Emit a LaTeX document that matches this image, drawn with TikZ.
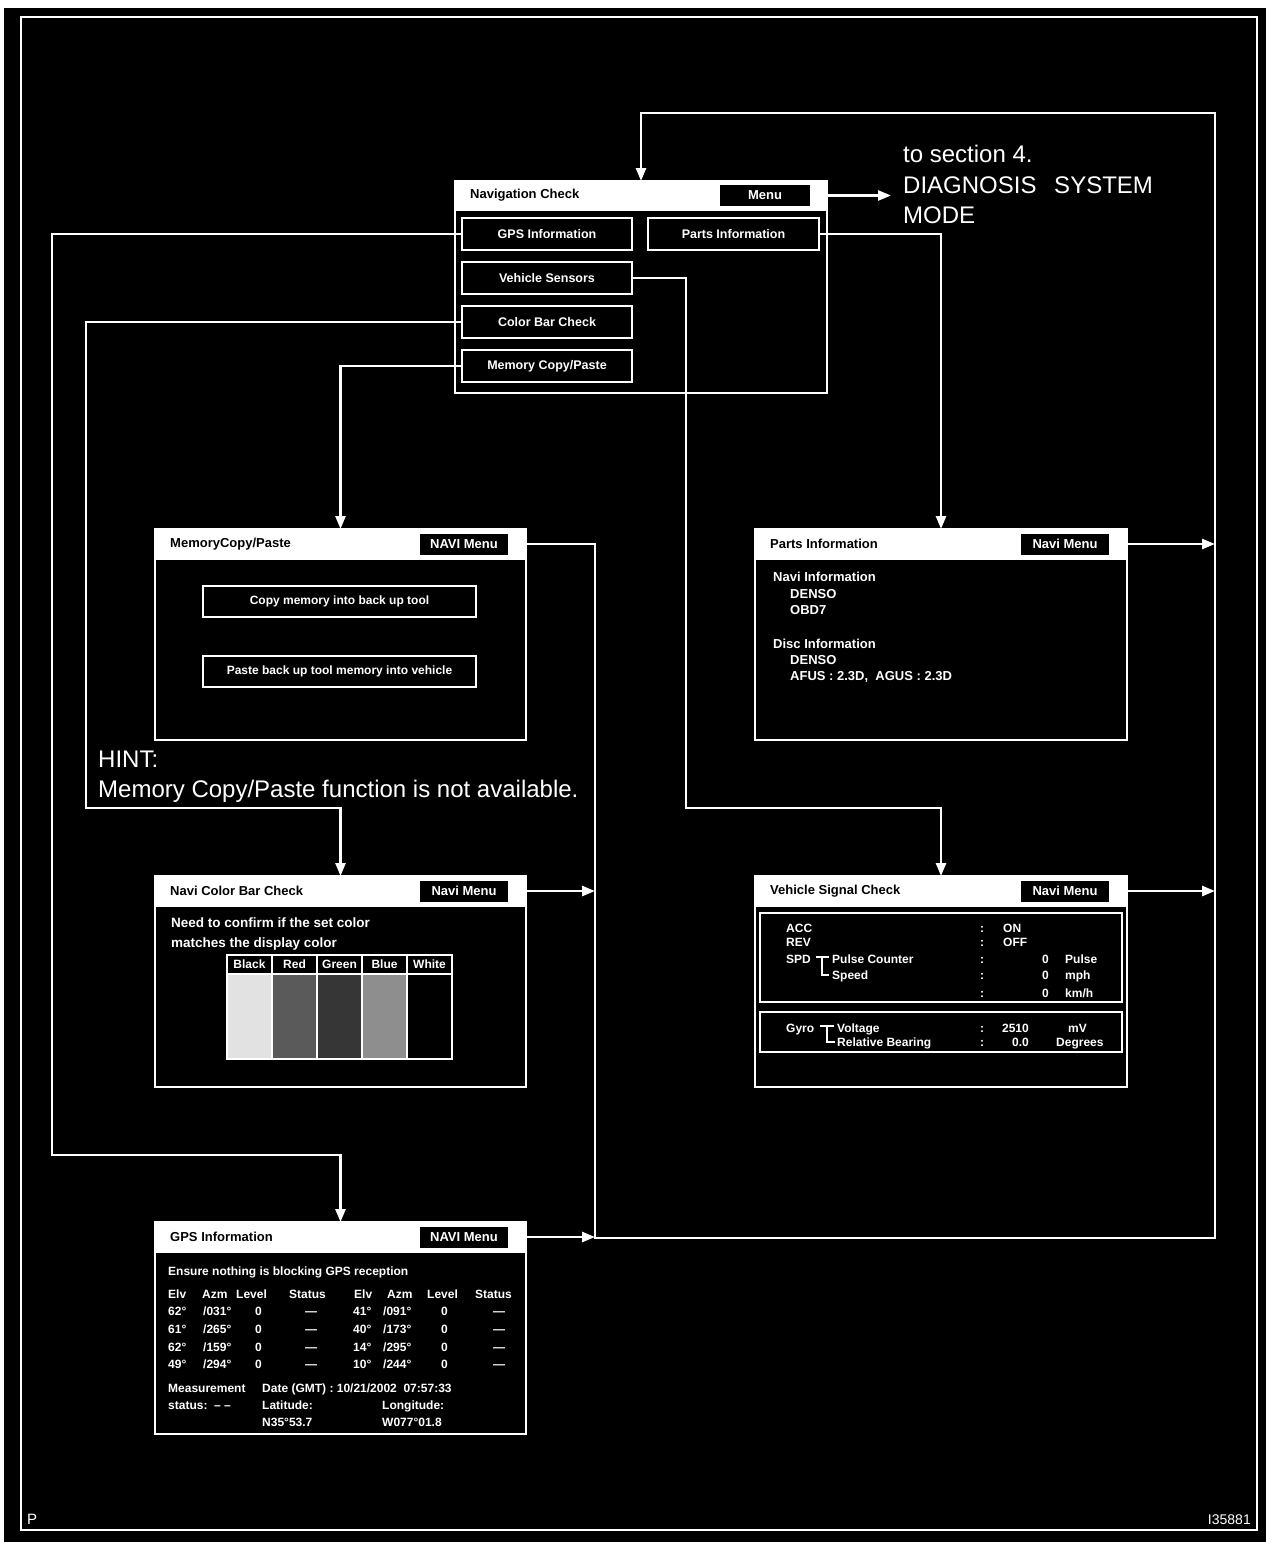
\documentclass[tikz,border=0pt]{standalone}
\usepackage{fontspec}
\setmainfont{Liberation Sans}
\usepackage{tikz}
\usetikzlibrary{arrows.meta,positioning,calc}
\definecolor{Ink}{HTML}{000000}
\definecolor{Paper}{HTML}{FFFFFF}
\definecolor{BarBlack}{HTML}{E2E2E2}
\definecolor{BarRed}{HTML}{5A5A5A}
\definecolor{BarGreen}{HTML}{363636}
\definecolor{BarBlue}{HTML}{8E8E8E}
\definecolor{BarWhite}{HTML}{000000}
\tikzset{
  arr/.style={-{Triangle[length=13bp,width=10bp]},line width=2.6bp,draw=Paper},
  screenbox/.style={draw=Paper,line width=1.6bp,fill=Ink,anchor=north west,inner sep=0pt,outer sep=0pt,minimum width=371bp,minimum height=211bp},
  barbox/.style={draw=Paper,line width=1.6bp,fill=Paper,anchor=north west,inner sep=0pt,outer sep=0pt,minimum width=371bp,minimum height=30bp},
  titletxt/.style={text=Ink,font=\fontsize{13bp}{15bp}\selectfont\bfseries,inner sep=0pt},
  menubtn/.style={fill=Ink,text=Paper,font=\fontsize{13bp}{15bp}\selectfont\bfseries,minimum width=88bp,minimum height=21bp,inner sep=0pt,outer sep=0pt},
  keybox/.style={draw=Paper,line width=1.6bp,fill=Ink,text=Paper,font=\fontsize{12.5bp}{15bp}\selectfont\bfseries,minimum width=170bp,minimum height=32bp,inner sep=0pt,outer sep=0pt},
  framebox/.style={draw=Paper,line width=1.6bp,anchor=north west,inner sep=0pt,outer sep=0pt},
  txt/.style={text=Paper,font=\fontsize{12bp}{14bp}\selectfont\bfseries,anchor=base west,inner sep=0pt},
  bigtxt/.style={text=Paper,font=\fontsize{24bp}{28bp}\selectfont,anchor=base west,inner sep=0pt},
  cellhead/.style={draw=Paper,line width=1.2bp,fill=Ink,text=Paper,font=\fontsize{12bp}{14bp}\selectfont\bfseries,anchor=north west,inner sep=0pt,outer sep=0pt,minimum width=45bp,minimum height=19bp},
  cellbody/.style={draw=Paper,line width=1.2bp,anchor=north west,inner sep=0pt,outer sep=0pt,minimum width=45bp,minimum height=85bp}
}
\begin{document}
\begin{tikzpicture}[x=1bp,y=-1bp,node distance=12bp]
  \useasboundingbox (0,0) rectangle (1266,1542);
  \fill[Paper] (0,0) rectangle (1266,1542);
  \fill[Ink] (4,8) rectangle (1266,1542);
  \draw[Paper,line width=2.4bp] (21,17) rectangle (1257,1530);
  % navigation check screen
  \node[screenbox,minimum width=372bp,minimum height=212bp] (navchk) at (455,181) {};
  \node[barbox,minimum width=372bp,minimum height=29bp] (navbar) at (navchk.north west) {};
  \node[titletxt,right=15bp of navbar.west] (navttl) {Navigation Check};
  \node[menubtn,minimum width=90bp,left=17bp of navbar.east] (navmenu) {Menu};
  \node[keybox] (gpsbtn) at (547,234) {GPS Information};
  \node[keybox,minimum width=171bp,right=16bp of gpsbtn] (partsbtn) {Parts Information};
  \node[keybox,below=of gpsbtn] (vsbtn) {Vehicle Sensors};
  \node[keybox,below=of vsbtn] (cbbtn) {Color Bar Check};
  \node[keybox,below=of cbbtn] (mcpbtn) {Memory Copy/Paste};
  \node[bigtxt] (diag1) at (903,162) {to section 4.};
  \node[bigtxt] (diag2) at (903,193) {DIAGNOSIS\hspace{11bp} SYSTEM};
  \node[bigtxt] (diag3) at (903,223) {MODE};
  % memory copy/paste screen
  \node[screenbox] (mcp) at (155,529) {};
  \node[barbox] (mcpbar) at (mcp.north west) {};
  \node[titletxt,right=15bp of mcpbar.west] (mcpttl) {MemoryCopy/Paste};
  \node[menubtn,left=18bp of mcpbar.east] (mcpmenu) {NAVI Menu};
  \node[keybox,minimum width=273bp,minimum height=31bp,font=\fontsize{12bp}{14bp}\selectfont\bfseries] (copybtn) at (339.5,601.5) {Copy memory into back up tool};
  \node[keybox,minimum width=273bp,minimum height=31bp,font=\fontsize{12bp}{14bp}\selectfont\bfseries,below=39bp of copybtn] (pastebtn) {Paste back up tool memory into vehicle};
  % parts information screen
  \node[screenbox,minimum width=372bp] (parts) at (755,529) {};
  \node[barbox,minimum width=372bp] (partsbar) at (parts.north west) {};
  \node[titletxt,right=15bp of partsbar.west] (partsttl) {Parts Information};
  \node[menubtn,left=18bp of partsbar.east] (partsmenu) {Navi Menu};
  \foreach \xa/\ya/\lbl [count=\k] in {773/581/Navi Information,790/598/DENSO,790/614/OBD7,773/648/Disc Information,790/664/DENSO,790/680/{AFUS : 2.3D,\ \ AGUS : 2.3D}}
    \node[txt,font=\fontsize{13bp}{15bp}\selectfont\bfseries] (pinfo\k) at (\xa,\ya) {\lbl};
  % color bar screen
  \node[screenbox] (cbar) at (155,876) {};
  \node[barbox] (cbarbar) at (cbar.north west) {};
  \node[titletxt,right=15bp of cbarbar.west] (cbarttl) {Navi Color Bar Check};
  \node[menubtn,left=18bp of cbarbar.east] (cbarmenu) {Navi Menu};
  \node[txt,font=\fontsize{13.5bp}{15bp}\selectfont\bfseries] (need1) at (171,927) {Need to confirm if the set color};
  \node[txt,font=\fontsize{13.5bp}{15bp}\selectfont\bfseries] (need2) at (171,947) {matches the display color};
  \foreach \cname/\cfill [count=\k] in {Black/BarBlack,Red/BarRed,Green/BarGreen,Blue/BarBlue,White/BarWhite}{
    \node[cellhead] (bh\k) at ({227+45*(\k-1)},955) {\cname};
    \node[cellbody,fill=\cfill] (bc\k) at (bh\k.south west) {};
  }
  % vehicle signal screen
  \node[screenbox,minimum width=372bp] (vsig) at (755,876) {};
  \node[barbox,minimum width=372bp] (vsigbar) at (vsig.north west) {};
  \node[titletxt,right=15bp of vsigbar.west] (vsigttl) {Vehicle Signal Check};
  \node[menubtn,left=18bp of vsigbar.east] (vsigmenu) {Navi Menu};
  \node[framebox,minimum width=362bp,minimum height=89bp] (spdbox) at (760,913) {};
  \node[framebox,minimum width=362bp,minimum height=40bp] (gyrobox) at (760,1012) {};
  \foreach \xa/\ya/\lbl [count=\k] in {786/932/ACC,786/946/REV,786/963/SPD,832/963/Pulse Counter,832/979/Speed,786/1032/Gyro,837/1032/Voltage,837/1046/Relative Bearing}
    \node[txt] (vsl\k) at (\xa,\ya) {\lbl};
  \foreach \ya [count=\k] in {932,946,963,979,997,1032,1046}
    \node[txt] (vsc\k) at (980,\ya) {:};
  \node[txt] (vsv1) at (1003,932) {ON};
  \node[txt] (vsv2) at (1003,946) {OFF};
  \foreach \xa/\ya/\lbl [count=\k] in {1049/963/0,1049/979/0,1049/997/0,1029/1032/2510,1029/1046/0.0}
    \node[txt,anchor=base east] (vsn\k) at (\xa,\ya) {\lbl};
  \foreach \xa/\ya/\lbl [count=\k] in {1065/963/Pulse,1065/979/mph,1065/997/{km/h},1068/1032/mV,1056/1046/Degrees}
    \node[txt] (vsu\k) at (\xa,\ya) {\lbl};
  \draw[Paper,line width=1.2bp] (816,957) -- (829,957) (822,957) -- (822,975) -- (829,975);
  \draw[Paper,line width=1.2bp] (820,1026) -- (834,1026) (827,1026) -- (827,1042) -- (835,1042);
  % gps information screen
  \node[screenbox,minimum height=212bp] (gps) at (155,1222) {};
  \node[barbox] (gpsbar) at (gps.north west) {};
  \node[titletxt,right=15bp of gpsbar.west] (gpsttl) {GPS Information};
  \node[menubtn,left=18bp of gpsbar.east] (gpsmenu) {NAVI Menu};
  \node[txt] (ensure) at (168,1275) {Ensure nothing is blocking GPS reception};
  \foreach \xa/\lbl [count=\k] in {168/Elv,202/Azm,236/Level,289/Status,354/Elv,387/Azm,427/Level,475/Status}
    \node[txt] (gh\k) at (\xa,1298) {\lbl};
  \foreach \ya/\ea/\aa/\eb/\ab [count=\k] in {1315/62/031/41/091,1333/61/265/40/173,1351/62/159/14/295,1368/49/294/10/244}{
    \node[txt] (gea\k) at (168,\ya) {\ea{}°};
    \node[txt] (gaa\k) at (203,\ya) {/\aa{}°};
    \node[txt] (gla\k) at (255,\ya) {0};
    \node[txt] (gsa\k) at (305,\ya) {—};
    \node[txt] (geb\k) at (353,\ya) {\eb{}°};
    \node[txt] (gab\k) at (383,\ya) {/\ab{}°};
    \node[txt] (glb\k) at (441,\ya) {0};
    \node[txt] (gsb\k) at (493,\ya) {—};
  }
  \node[txt] (meas) at (168,1392) {Measurement};
  \node[txt] (gdate) at (262,1392) {Date (GMT) : 10/21/2002\ \ 07:57:33};
  \node[txt] (gstat) at (168,1409) {status:\ \ – –};
  \node[txt] (glat) at (262,1409) {Latitude:};
  \node[txt] (glatv) at (262,1426) {N35°53.7};
  \node[txt] (glon) at (382,1409) {Longitude:};
  \node[txt] (glonv) at (382,1426) {W077°01.8};
  % hint and corner marks
  \node[bigtxt] (hint1) at (98,767) {HINT:};
  \node[bigtxt] (hint2) at (98,797) {Memory Copy/Paste function is not available.};
  \node[txt,font=\fontsize{15bp}{17bp}\selectfont] (pmark) at (27,1524) {P};
  \node[txt,font=\fontsize{14bp}{17bp}\selectfont,anchor=base east] (figno) at (1251,1524) {I35881};
  % connectors
  \coordinate (retl) at (595,1238);
  \coordinate (retr) at (1215,1238);
  \coordinate (rett) at (1215,113);
  \coordinate (gpsjog) at (52,1155);
  \coordinate (cbjog) at (86,808);
  \coordinate (vsjog) at (686,808);
  \draw[arr] (mcpmenu.east) -| (retl) -- (retr) -- (rett) -| (navchk.north);
  \draw[arr] (gpsmenu.east) -- (gpsmenu.east -| retl);
  \draw[arr] (cbarmenu.east) -- (cbarmenu.east -| retl);
  \draw[arr] (partsmenu.east) -- (partsmenu.east -| retr);
  \draw[arr] (vsigmenu.east) -- (vsigmenu.east -| retr);
  \draw[arr,shorten >=12bp] (navmenu.east) -- (navmenu.east -| diag2.west);
  \draw[arr] (gpsbtn.west) -| (gpsjog) -| (gps.north);
  \draw[arr] (cbbtn.west) -| (cbjog) -| (cbar.north);
  \draw[arr] (mcpbtn.west) -| (mcp.north);
  \draw[arr] (partsbtn.east) -| (parts.north);
  \draw[arr] (vsbtn.east) -| (vsjog) -| (vsig.north);
\end{tikzpicture}
\end{document}
